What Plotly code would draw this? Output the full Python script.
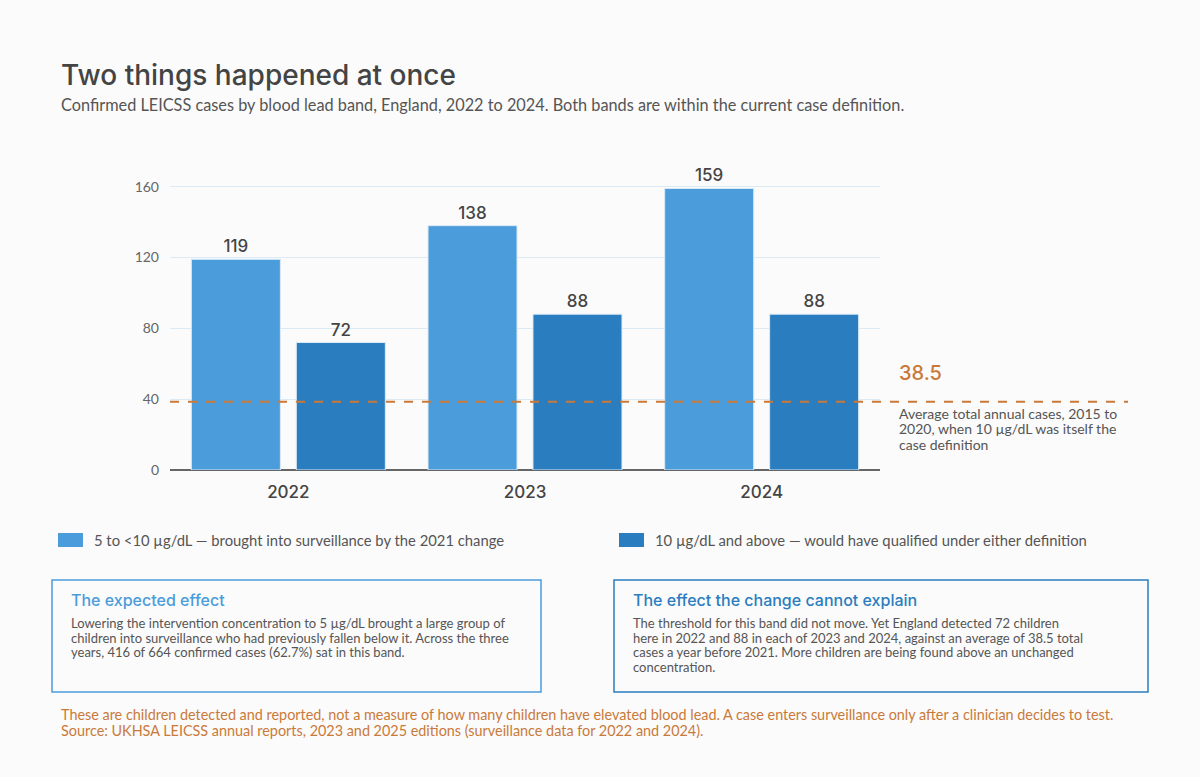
import plotly.graph_objects as go

# data
years = ["2022", "2023", "2024"]
band_5_to_10 = [119, 138, 159]
band_10_plus = [72, 88, 88]
baseline_avg = 38.5
y_ticks = [0, 40, 80, 120, 160]

name_low = "5 to <10 µg/dL — brought into surveillance by the 2021 change"
name_high = "10 µg/dL and above — would have qualified under either definition"

light_blue = "#4b9cdb"
dark_blue = "#2a7dbf"
orange = "#c97a3a"
ink = "#444444"
body = "#555555"
bg = "#fbfbfb"

TITLE_FONT = "Inter, Noto Sans, sans-serif"
BODY_FONT = "Lato, Noto Sans, sans-serif"

# plot area in pixels (used to place the page furniture)
L, R, T, B = 170, 880, 169, 470
W, H = 1200, 777


def px(x):
    return (x - L) / (R - L)


def py(y):
    return (B - y) / (B - T)


def text_lines(fig, x, y_first, step, lines, size, color, family=BODY_FONT):
    # one annotation per line so the leading matches the reference
    for i, line in enumerate(lines):
        fig.add_annotation(xref="paper", yref="paper", x=px(x), y=py(y_first + i * step),
                           text=line, showarrow=False, xanchor="left", yanchor="middle",
                           font=dict(family=family, size=size, color=color))


fig = go.Figure()

fig.add_trace(go.Bar(
    x=years, y=band_5_to_10, name=name_low,
    marker=dict(color=light_blue, line=dict(color="#dbe9f6", width=1)),
    text=band_5_to_10, textposition="outside", cliponaxis=False,
    textfont=dict(family=TITLE_FONT, size=17, color=ink, weight=500),
))
fig.add_trace(go.Bar(
    x=years, y=band_10_plus, name=name_high,
    marker=dict(color=dark_blue, line=dict(color="#dbe9f6", width=1)),
    text=band_10_plus, textposition="outside", cliponaxis=False,
    textfont=dict(family=TITLE_FONT, size=17, color=ink, weight=500),
))

# pre-2021 average line, runs out past the plot into the note
fig.add_shape(type="line", xref="paper", yref="y",
              x0=0, x1=px(1128), y0=baseline_avg, y1=baseline_avg,
              line=dict(color=orange, width=2, dash="dash"))
fig.add_annotation(xref="paper", yref="paper", x=px(897), y=py(373),
                   text=f"{baseline_avg}", showarrow=False, xanchor="left", yanchor="middle",
                   font=dict(family=TITLE_FONT, size=20, color=orange, weight=500))
text_lines(fig, 897, 413, 15.5,
           ["Average total annual cases, 2015 to",
            "2020, when 10 µg/dL was itself the",
            "case definition"], 14, body)

# title and subtitle
fig.add_annotation(xref="paper", yref="paper", x=px(59), y=py(75),
                   text="Two things happened at once", showarrow=False,
                   xanchor="left", yanchor="middle",
                   font=dict(family=TITLE_FONT, size=28, color=ink, weight=500))
fig.add_annotation(xref="paper", yref="paper", x=px(59), y=py(104),
                   text="Confirmed LEICSS cases by blood lead band, England, 2022 to 2024. Both bands are within the current case definition.",
                   showarrow=False, xanchor="left", yanchor="middle",
                   font=dict(family=BODY_FONT, size=16.3, color=body))

# legend drawn by hand so the swatches match
legend_items = [(58, name_low, light_blue), (619, name_high, dark_blue)]
for x0, label, col in legend_items:
    fig.add_shape(type="rect", xref="paper", yref="paper",
                  x0=px(x0), x1=px(x0 + 25), y0=py(547), y1=py(533),
                  line=dict(width=0), fillcolor=col)
    fig.add_annotation(xref="paper", yref="paper", x=px(x0 + 34), y=py(540),
                       text=label, showarrow=False, xanchor="left", yanchor="middle",
                       font=dict(family=BODY_FONT, size=14.8, color=body))

# the two explanation boxes
boxes = [
    (52, 541, light_blue, "The expected effect",
     ["Lowering the intervention concentration to 5 µg/dL brought a large group of",
      "children into surveillance who had previously fallen below it. Across the three",
      "years, 416 of 664 confirmed cases (62.7%) sat in this band."]),
    (614, 1148, dark_blue, "The effect the change cannot explain",
     ["The threshold for this band did not move. Yet England detected 72 children",
      "here in 2022 and 88 in each of 2023 and 2024, against an average of 38.5 total",
      "cases a year before 2021. More children are being found above an unchanged",
      "concentration."]),
]
for x0, x1, col, head, lines in boxes:
    fig.add_shape(type="rect", xref="paper", yref="paper",
                  x0=px(x0), x1=px(x1), y0=py(692), y1=py(580),
                  line=dict(color=col, width=1.5), fillcolor="rgba(0,0,0,0)")
    fig.add_annotation(xref="paper", yref="paper", x=px(x0 + 17), y=py(600),
                       text=head, showarrow=False, xanchor="left", yanchor="middle",
                       font=dict(family=TITLE_FONT, size=16, color=col, weight=500))
    text_lines(fig, x0 + 17, 623, 14.5, lines, 13, body)

# footnote
text_lines(fig, 59, 714, 16,
           ["These are children detected and reported, not a measure of how many children have elevated blood lead. "
            "A case enters surveillance only after a clinician decides to test.",
            "Source: UKHSA LEICSS annual reports, 2023 and 2025 editions (surveillance data for 2022 and 2024)."],
           14.4, orange)

fig.update_layout(
    width=W, height=H,
    margin=dict(l=L, r=W - R, t=T, b=H - B, pad=0),
    paper_bgcolor=bg, plot_bgcolor=bg,
    barmode="group", bargap=0.113, bargroupgap=0.152,
    showlegend=False,
    xaxis=dict(showgrid=False, zeroline=False, showline=False, ticks="",
               ticklabelstandoff=10,
               tickfont=dict(family=TITLE_FONT, size=17, color=ink, weight=500)),
    yaxis=dict(range=[0, 170], tickvals=y_ticks, showgrid=True, gridcolor="#dceaf6",
               gridwidth=1, zeroline=True, zerolinecolor="#666666", zerolinewidth=2,
               showline=False, ticks="", ticklabelstandoff=10,
               tickfont=dict(family=BODY_FONT, size=14, color="#666666")),
    hovermode=False,
)

fig.write_html("out.html", config={"displayModeBar": False},
               post_script="document.body.style.margin='0';document.body.style.background='%s';" % bg)
